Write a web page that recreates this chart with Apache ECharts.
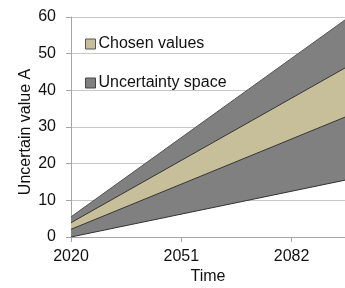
<!DOCTYPE html>
<html>
<head>
<meta charset="utf-8">
<script src="https://cdn.jsdelivr.net/npm/echarts@6/dist/echarts.min.js"></script>
<style>
	html, body { margin: 0; padding: 0; background: #fff; }
	#chart { width: 345px; height: 288px; }
</style>
</head>
<body>
<div id="chart"></div>
<script>
	// 年份 (category axis, labels every 31 years)
	var years = [];
	for (var y = 2020; y <= 2097; y++) years.push(String(y));

	// series bounds, start and end year only (straight lines)
	var endYears = ['2020', '2097'];
	var lowerBound = [0, 15.5];     // bottom of uncertainty space
	var chosenLow = [2.1, 32.7];    // lower edge of chosen values
	var chosenHigh = [3.9, 46.1];   // upper edge of chosen values
	var upperBound = [5.5, 59.2];   // top of uncertainty space

	var yTicks = [0, 10, 20, 30, 40, 50, 60];

	var grayFill = '#808080';
	var tanFill = '#c6bf99';
	var edge = '#333333';

	function pairs(a, b) {
		return endYears.map(function(yr, i) {
			return [yr, b ? a[i] - b[i] : a[i]];
		});
	}

	var myChart = echarts.init(document.getElementById('chart'));
	var option = {
		animation: false,
		textStyle: { fontFamily: 'Liberation Sans, Arial, sans-serif' },
		grid: { left: 71, right: 0, top: 17, bottom: 51, containLabel: false, outerBoundsMode: 'none' },
		legend: {
			orient: 'vertical',
			left: 80,
			top: 31,
			itemGap: 23,
			itemWidth: 10,
			itemHeight: 10,
			icon: 'rect',
			textStyle: { fontSize: 16, color: '#111', padding: [0, 0, 0, -2] },
			data: [
				{ name: 'Chosen values', itemStyle: { color: tanFill, borderColor: '#555', borderWidth: 1 } },
				{ name: 'Uncertainty space', itemStyle: { color: grayFill, borderColor: '#444', borderWidth: 1 } }
			]
		},
		xAxis: {
			type: 'category',
			data: years,
			boundaryGap: false,
			name: 'Time',
			nameLocation: 'middle',
			nameGap: 32,
			nameMoveOverlap: false,
			nameTextStyle: { fontSize: 16, color: '#111' },
			axisLine: { lineStyle: { color: '#a6a6a6' } },
			axisTick: { interval: 30, length: 5, lineStyle: { color: '#a6a6a6' } },
			axisLabel: { interval: 30, fontSize: 16, color: '#111', margin: 12 }
		},
		yAxis: {
			type: 'value',
			min: yTicks[0],
			max: yTicks[yTicks.length - 1],
			interval: 10,
			name: 'Uncertain value A',
			nameLocation: 'middle',
			nameGap: 37,
			nameMoveOverlap: false,
			nameTextStyle: { fontSize: 16, color: '#111', padding: [0, 10, 0, 0] },
			axisLine: { show: true, lineStyle: { color: '#a6a6a6' } },
			axisTick: { show: true, length: 5, lineStyle: { color: '#a6a6a6' } },
			axisLabel: { fontSize: 16, color: '#111', margin: 15 },
			splitLine: { lineStyle: { color: '#c8c8c8' } }
		},
		series: [{
				name: 'base',
				type: 'line',
				stack: 'band',
				symbol: 'none',
				data: pairs(lowerBound),
				lineStyle: { color: edge, width: 1 },
				areaStyle: { opacity: 0 }
			},
			{
				name: 'Uncertainty space',
				type: 'line',
				stack: 'band',
				symbol: 'none',
				data: pairs(chosenLow, lowerBound),
				itemStyle: { color: grayFill },
				lineStyle: { color: edge, width: 1 },
				areaStyle: { color: grayFill, opacity: 1 }
			},
			{
				name: 'Chosen values',
				type: 'line',
				stack: 'band',
				symbol: 'none',
				data: pairs(chosenHigh, chosenLow),
				itemStyle: { color: tanFill },
				lineStyle: { color: edge, width: 1 },
				areaStyle: { color: tanFill, opacity: 1 }
			},
			{
				name: 'Uncertainty space',
				type: 'line',
				stack: 'band',
				symbol: 'none',
				data: pairs(upperBound, chosenHigh),
				itemStyle: { color: grayFill },
				lineStyle: { color: '#555', width: 1 },
				areaStyle: { color: grayFill, opacity: 1 }
			}
		]
	};
	myChart.setOption(option);
</script>
</body>
</html>
